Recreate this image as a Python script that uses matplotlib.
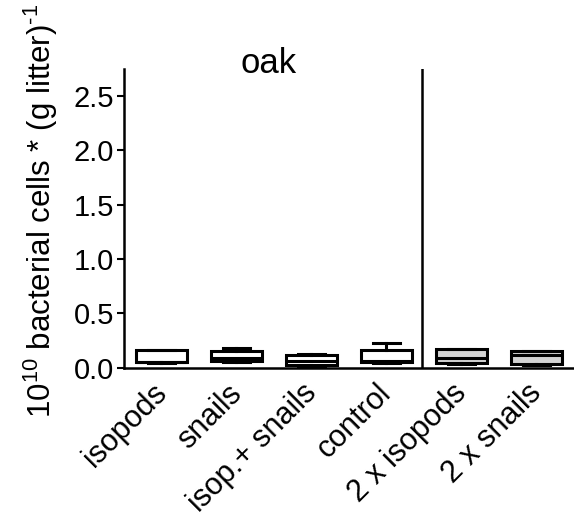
import matplotlib
matplotlib.use('Agg')
import matplotlib.pyplot as plt
from matplotlib.transforms import ScaledTranslation


groups = ['isopods', 'snails', 'isop.+ snails', 'control', '2 x isopods', '2 x snails']
q1 = [0.05, 0.06, 0.025, 0.055, 0.045, 0.033]
med = [0.055, 0.085, 0.06, 0.065, 0.085, 0.12]
q3 = [0.16, 0.15, 0.12, 0.16, 0.17, 0.15]
whis_lo = [0.045, 0.05, 0.015, 0.04, 0.035, 0.025]
whis_hi = [0.165, 0.18, 0.125, 0.23, 0.175, 0.155]
fills = ['white', 'white', 'white', 'white', '#d3d3d3', '#d3d3d3']

plt.rcParams['font.family'] = ['Liberation Sans', 'DejaVu Sans']
plt.rcParams['mathtext.fontset'] = 'custom'
plt.rcParams['mathtext.rm'] = 'Liberation Sans'
plt.rcParams['mathtext.it'] = 'Liberation Sans:italic'
plt.rcParams['mathtext.bf'] = 'Liberation Sans:bold'
plt.rcParams['mathtext.default'] = 'regular'

stats = []
for i in range(len(groups)):
    stats.append({'med': med[i], 'q1': q1[i], 'q3': q3[i],
                  'whislo': whis_lo[i], 'whishi': whis_hi[i], 'fliers': []})

fig = plt.figure(figsize=(5.74, 5.19), dpi=100)
ax = fig.add_axes([0.216, 0.2915, 0.784, 0.5755])

lw = 2.2
bp = ax.bxp(stats, positions=range(len(groups)), widths=0.67, patch_artist=True,
            showfliers=False,
            boxprops=dict(linewidth=lw, edgecolor='black'),
            medianprops=dict(color='black', linewidth=lw),
            whiskerprops=dict(color='black', linewidth=lw),
            capprops=dict(color='black', linewidth=lw),
            capwidths=0.36)
for patch, c in zip(bp['boxes'], fills):
    patch.set_facecolor(c)

# separator between single and double density treatments
ax.axvline(3.47, color='black', linewidth=1.8)
ax.set_xlim(-0.5, 5.5)
ax.set_ylim(0, 2.75)
ax.set_yticks([0, 0.5, 1.0, 1.5, 2.0, 2.5])
ax.set_yticklabels(['0.0', '0.5', '1.0', '1.5', '2.0', '2.5'])
ax.set_xticks(range(len(groups)))
ax.set_xticklabels(groups, rotation=45, ha='right', va='top', rotation_mode='anchor')

for s in ['top', 'right']:
    ax.spines[s].set_visible(False)
ax.spines['left'].set_linewidth(1.8)
ax.spines['bottom'].set_linewidth(1.8)
ax.tick_params(axis='y', labelsize=21, length=5, width=1.5, pad=2)
ax.tick_params(axis='x', labelsize=22, length=0, pad=4)

# nudge the rotated labels a bit left/down
shift = ScaledTranslation(-0.10, -0.05, fig.dpi_scale_trans)
for lab in ax.get_xticklabels():
    lab.set_transform(lab.get_transform() + shift)

ax.set_ylabel('10$^{10}$ bacterial cells * (g litter)$^{\u20101}$', fontsize=22.5, labelpad=10)
ax.yaxis.label.set_y(0.525)
ax.text(1.43, 0.987, 'oak', transform=ax.get_xaxis_transform(), ha='center',
        va='baseline', fontsize=25)

fig.savefig('out.png', dpi=100)
